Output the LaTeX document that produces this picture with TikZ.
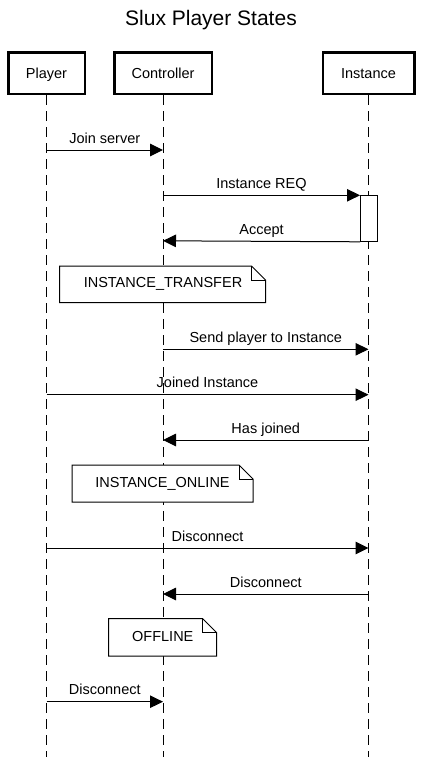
\documentclass[tikz,border=0pt]{standalone}
\usepackage{fontspec}
\setmainfont{Liberation Sans}
\usetikzlibrary{arrows.meta}
\begin{document}
\begin{tikzpicture}[x=1pt,y=-1pt,
  actor/.style={draw,line width=2.5pt,minimum height=41.5pt,inner sep=0pt,font=\fontsize{14.5}{16}\selectfont,text height=10.4pt,text depth=0pt},
  life/.style={line width=1pt,dash pattern=on 10pt off 6pt},
  msg/.style={line width=1pt,-{Triangle[length=13pt,width=12.5pt]}},
  lbl/.style={anchor=base,yshift=7pt,inner sep=0pt,font=\fontsize{14.5}{16}\selectfont},
  notebox/.style={draw,fill=white,line width=1pt},
  notetext/.style={anchor=base,inner sep=0pt,font=\fontsize{14.5}{16}\selectfont},
  actbox/.style={draw,fill=white,line width=1pt,minimum width=17pt,minimum height=45.5pt,inner sep=0pt}
]
\useasboundingbox[fill=white] (0,0) rectangle (422,758);

% title
\node[anchor=base,inner sep=0pt,font=\fontsize{21}{24}\selectfont] (title) at (211,25) {Slux Player States};

% actors
\node[actor,minimum width=76.5pt] (player) at (46.5,73) {Player};
\node[actor,minimum width=97.5pt] (controller) at (163,73) {Controller};
\node[actor,minimum width=91.5pt] (instance) at (368.5,73) {Instance};

% lifeline ends
\coordinate (pend) at (46.5,757);
\coordinate (cend) at (163,757);
\coordinate (iend) at (368.5,757);
\draw[life] (player.south) -- (pend);
\draw[life] (controller.south) -- (cend);
\draw[life] (instance.south) -- (iend);

% activation
\node[actbox,anchor=north west] (act) at (360,195.3) {};

% message points
\coordinate (p1) at (46.5,150);   \coordinate (c1) at (163,150);
\coordinate (c2) at (163,195.3);  \coordinate (a2) at (act.north west);
\coordinate (a3) at (act.south west); \coordinate (c3) at (163,240.8);
\coordinate (c4) at (163,349.3);  \coordinate (i4) at (368.5,349.3);
\coordinate (p5) at (46.5,394.7); \coordinate (i5) at (368.5,394.7);
\coordinate (i6) at (368.5,440);  \coordinate (c6) at (163,440);
\coordinate (p7) at (46.5,548);   \coordinate (i7) at (368.5,548);
\coordinate (i8) at (368.5,594);  \coordinate (c8) at (163,594);
\coordinate (p9) at (46.5,701.7); \coordinate (c9) at (163,701.7);

\draw[msg] (p1) -- node[lbl] (m1) {Join server} (c1);
\draw[msg] (c2) -- node[lbl] (m2) {Instance REQ} (a2);
\draw[msg] (a3) -- node[lbl] (m3) {Accept} (c3);
\draw[msg] (c4) -- node[lbl] (m4) {Send player to Instance} (i4);
\draw[msg] (p5) -- node[lbl] (m5) {Joined Instance} (i5);
\draw[msg] (i6) -- node[lbl] (m6) {Has joined} (c6);
\draw[msg] (p7) -- node[lbl] (m7) {Disconnect} (i7);
\draw[msg] (i8) -- node[lbl] (m8) {Disconnect} (c8);
\draw[msg] (p9) -- node[lbl] (m9) {Disconnect} (c9);

% notes
\draw[notebox] (59.5,266) -- (251.5,266) -- (265.5,280) -- (265.5,302.5) -- (59.5,302.5) -- cycle;
\draw[line width=1pt] (251.5,266) -- (251.5,280) -- (265.5,280);
\node[notetext] (n1) at (163,287.7) {INSTANCE\_TRANSFER};

\draw[notebox] (72,465) -- (239,465) -- (253,479) -- (253,502) -- (72,502) -- cycle;
\draw[line width=1pt] (239,465) -- (239,479) -- (253,479);
\node[notetext] (n2) at (162.5,487.7) {INSTANCE\_ONLINE};

\draw[notebox] (108.5,618.5) -- (202.5,618.5) -- (216.5,632.5) -- (216.5,656) -- (108.5,656) -- cycle;
\draw[line width=1pt] (202.5,618.5) -- (202.5,632.5) -- (216.5,632.5);
\node[notetext] (n3) at (162.8,641.7) {OFFLINE};
\end{tikzpicture}
\end{document}
